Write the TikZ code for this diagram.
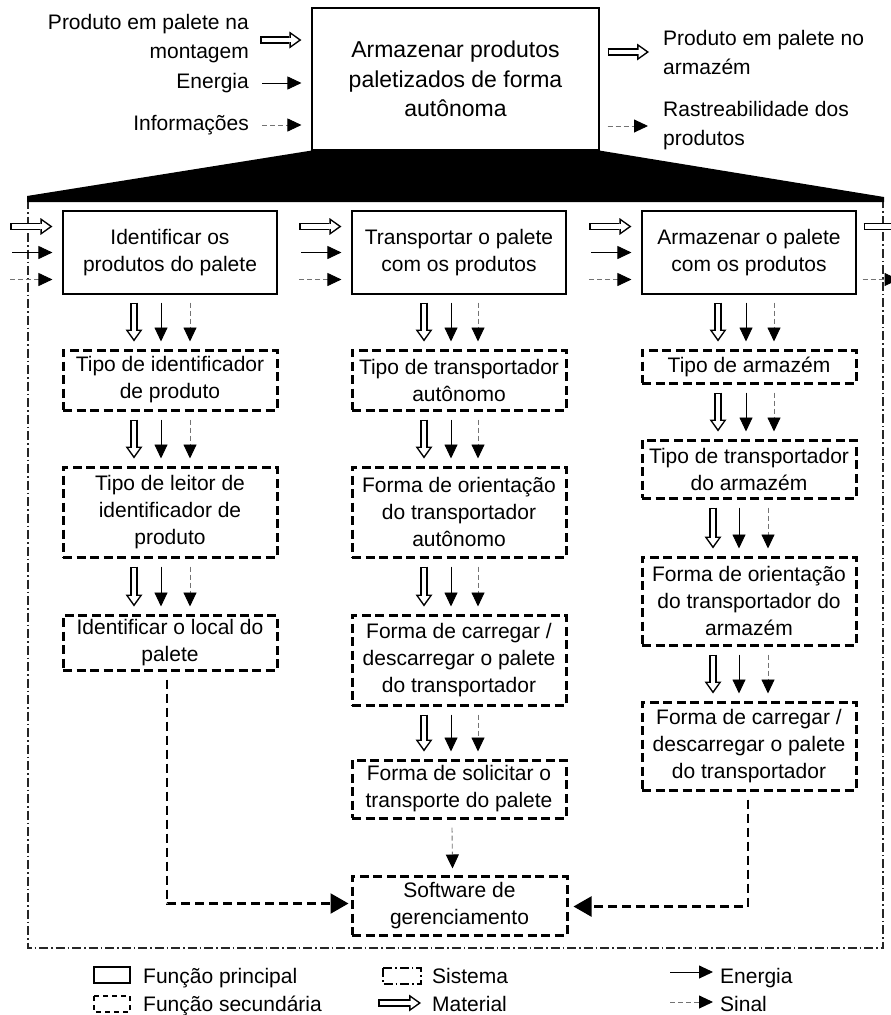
\documentclass[tikz,border=0pt]{standalone}
\usepackage{fontspec}
\setmainfont{Liberation Sans}
\usetikzlibrary{arrows.meta,calc}

\newcommand\bxfont{\fontsize{21}{27}\selectfont}
\newcommand\lblfont{\fontsize{21}{29}\selectfont}

\tikzset{
  mainbox/.style={draw, line width=1.1pt, minimum width=287pt, minimum height=142pt,
    align=center, inner sep=0pt, font=\fontsize{23}{29.5}\selectfont},
  fnbox/.style={draw, line width=1.1pt, minimum width=214pt, minimum height=83pt,
    align=center, inner sep=0pt, font=\bxfont},
  subbox/.style={draw, line width=3pt, dash pattern=on 9pt off 4.5pt,
    minimum width=214pt, align=center, inner sep=0pt, font=\bxfont},
  lbl/.style={inner sep=0pt, font=\lblfont},
  % hollow block arrow: black body, white core drawn on top
  matflow/.style={draw=black, line width=7.6pt, shorten >=#1,
    -{Triangle[length=12pt, width=17pt, line width=0pt]},
    postaction={draw=white, line width=4.4pt, shorten >=#1+2.7pt, shorten <=1.6pt,
      -{Triangle[length=7.6pt, width=11pt, line width=0pt]}}},
  material/.style={matflow=0pt},
  energy/.style={draw=black, line width=0.9pt,
    -{Triangle[length=14pt, width=13pt]}},
  signal/.style={draw=black!55, line width=0.9pt, dash pattern=on 5pt off 3pt,
    -{Triangle[length=14pt, width=13pt, color=black]}},
  sigthick/.style={draw=black, line width=2.2pt, dash pattern=on 9pt off 5pt,
    -{Triangle[length=18pt, width=20pt]}},
  system/.style={draw=black!85, line width=1.1pt,
    dash pattern=on 9pt off 3pt on 1.5pt off 3pt},
}

% flows between two stacked boxes: material, energy, signal
\newcommand\triflow[5]{%
  \draw[material] ($(#1.south)+(#3,8)$) -- ($(#2.north)+(#3,-7)$);
  \draw[energy]   ($(#1.south)+(#4,8)$) -- ($(#2.north)+(#4,-7)$);
  \draw[signal]   ($(#1.south)+(#5,8)$) -- ($(#2.north)+(#5,-7)$);}
% flows entering a function box from the left
\newcommand\inflow[1]{%
  \draw[material] ($(#1.west)+(-52,-26)$) -- ($(#1.west)+(-10,-26)$);
  \draw[energy]   ($(#1.west)+(-50,0)$)   -- ($(#1.west)+(-10,0)$);
  \draw[signal]   ($(#1.west)+(-52,27)$)  -- ($(#1.west)+(-10,27)$);}

\begin{document}
\begin{tikzpicture}[x=1pt, y=-1pt]
\useasboundingbox (0,0) rectangle (891,1015);
\clip (0,0) rectangle (891,1015);

% system boundary
\draw[system] (28,200) rectangle (883,948);

% main function
\node[mainbox] (main) at (455.5,79) {Armazenar produtos\\paletizados de forma\\autônoma};

% expansion wedge
\fill (main.south west) -- (main.south east) -- (884,197) -- (884,202)
      -- (27,202) -- (27,196) -- cycle;

% external inputs and outputs
\node[lbl, anchor=east, align=right] (inA) at (249,38.5) {Produto em palete na\\montagem};
\node[lbl, anchor=east] (inE) at (249,83) {Energia};
\node[lbl, anchor=east] (inI) at (249,125) {Informações};
\node[lbl, anchor=west, align=left] (outA) at (663,52) {Produto em palete no\\armazém};
\node[lbl, anchor=west, align=left] (outR) at (663,126) {Rastreabilidade dos\\produtos};

\draw[matflow=10pt] (inA.east |- 0,40) ++(11,0) -- (main.west |- 0,40);
\draw[energy, shorten >=10pt] (inE.east) ++(13,0) -- (main.west |- inE.east);
\draw[signal, shorten >=10pt] (inI.east) ++(13,0) -- (main.west |- inI.east);
\draw[matflow=14pt] (main.east |- 0,52) ++(8,0) -- (outA.west |- 0,52);
\draw[signal, shorten >=15pt] (main.east |- 0,126) ++(8,0) -- (outR.west |- 0,126);

% sub-functions
\node[fnbox] (f1) at (170,252.5) {Identificar os\\produtos do palete};
\node[fnbox] (f2) at (459,252.5) {Transportar o palete\\com os produtos};
\node[fnbox] (f3) at (749,252.5) {Armazenar o palete\\com os produtos};

\inflow{f1}
\inflow{f2}
\inflow{f3}
\draw[material] ($(f3.east)+(7,-26)$) -- ($(f3.east)+(56,-26)$);
\draw[signal]   ($(f3.east)+(6,27)$)  -- ($(f3.east)+(42,27)$);

% identification branch
\node[subbox, minimum height=60pt] (s1) at (170,380) {Tipo de identificador\\de produto};
\node[subbox, minimum height=90pt] (s2) at (170,512) {Tipo de leitor de\\identificador de\\produto};
\node[subbox, minimum height=55pt] (s3) at (170,642.5) {Identificar o local do\\palete};

% transport branch
\node[subbox, minimum height=60pt] (m1) at (459,380) {Tipo de transportador\\autônomo};
\node[subbox, minimum height=90pt] (m2) at (459,512) {Forma de orientação\\do transportador\\autônomo};
\node[subbox, minimum height=90pt] (m3) at (459,660) {Forma de carregar /\\descarregar o palete\\do transportador};
\node[subbox, minimum height=58pt] (m4) at (459,789) {Forma de solicitar o\\transporte do palete};
\node[subbox, minimum height=59pt, minimum width=215pt] (sw) at (459.5,905.5) {Software de\\gerenciamento};

% storage branch
\node[subbox, minimum height=33pt] (r1) at (749,366.5) {Tipo de armazém};
\node[subbox, minimum height=58pt] (r2) at (749,469) {Tipo de transportador\\do armazém};
\node[subbox, minimum height=88pt] (r3) at (749,601) {Forma de orientação\\do transportador do\\armazém};
\node[subbox, minimum height=88pt] (r4) at (749,746) {Forma de carregar /\\descarregar o palete\\do transportador};

\triflow{f1}{s1}{-36}{-9}{20}
\triflow{s1}{s2}{-36}{-9}{20}
\triflow{s2}{s3}{-36}{-9}{20}

\triflow{f2}{m1}{-35}{-8}{19}
\triflow{m1}{m2}{-35}{-8}{19}
\triflow{m2}{m3}{-35}{-8}{19}
\triflow{m3}{m4}{-35}{-8}{19}

\triflow{f3}{r1}{-31}{-3}{25}
\triflow{r1}{r2}{-31}{-3}{25}
\triflow{r2}{r3}{-36}{-10}{19}
\triflow{r3}{r4}{-36}{-10}{19}

% links to the management software
\draw[signal] ($(m4.south)+(-7,8)$) -- ($(sw.north)+(-7,-6)$);
\draw[sigthick, shorten >=2pt] ($(s3.south)+(-3,8)$) |- ($(sw.west)+(0,-2)$);
\draw[sigthick, shorten >=5pt] ($(r4.south)+(-1,8)$) |- ($(sw.east)+(0,1)$);

% legend
\draw[line width=1.1pt] (94,967) rectangle (130,983);
\node[lbl, anchor=base west] (lg1) at (143,983) {Função principal};
\draw[line width=1.5pt, dash pattern=on 5pt off 4pt] (94,996) rectangle (130,1012);
\node[lbl, anchor=base west] (lg2) at (143,1011) {Função secundária};
\draw[line width=1.1pt, dash pattern=on 9pt off 3pt on 1.5pt off 3pt] (383,968) rectangle (421,984);
\node[lbl, anchor=base west] (lg3) at (432,983) {Sistema};
\coordinate (lm0) at (378,1003);
\coordinate (lm1) at (421,1003);
\draw[material] (lm0) -- (lm1);
\node[lbl, anchor=base west] (lg4) at (432,1011) {Material};
\coordinate (le0) at (670,972);
\coordinate (le1) at (713,972);
\draw[energy] (le0) -- (le1);
\node[lbl, anchor=base west] (lg5) at (720,983) {Energia};
\coordinate (ls0) at (670,1002);
\coordinate (ls1) at (713,1002);
\draw[signal] (ls0) -- (ls1);
\node[lbl, anchor=base west] (lg6) at (720,1011) {Sinal};
\end{tikzpicture}
\end{document}
